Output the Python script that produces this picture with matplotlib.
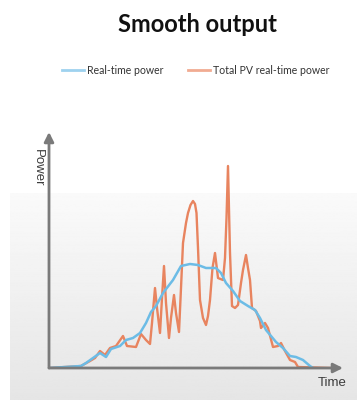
import numpy as np
import matplotlib
matplotlib.use("Agg")
import matplotlib.pyplot as plt
from matplotlib.lines import Line2D

# time / power (arbitrary units, no ticks shown)
pv_time = [0, 32, 41, 46, 51, 56, 61, 67, 74, 78, 87, 92, 97, 101, 103, 106,
           108, 111, 113, 115, 117, 120, 122, 125, 127, 130, 132, 134, 137,
           139, 141.5, 144, 146, 147.5, 149, 151, 154, 157, 159, 161, 163.5,
           166, 169, 174, 176, 177.5, 179, 181, 183, 186, 189, 192, 194,
           197, 199, 201, 203, 207, 211, 212, 216, 219, 224, 229, 232, 236,
           241, 246, 249, 281]
pv_power = [0, 2, 7, 10, 17, 13, 20, 22, 32, 22, 21, 34, 28, 24, 45, 80,
            60, 35, 70, 102, 65, 30, 50, 73, 55, 36, 80, 125, 145,
            155, 163, 167, 164, 155, 120, 68, 50, 43, 52, 68, 100,
            115, 90, 88, 110, 150, 202, 115, 62, 60, 63, 85, 98,
            113, 100, 88, 60, 57, 47, 40, 45, 40, 21, 22, 25, 17,
            8, 6, 1, 0]

rt_time = [0, 32, 37, 51, 57, 62, 71, 77, 84, 91, 97, 102, 107, 114, 124,
           132, 141, 149, 157, 167, 172, 177, 184, 191, 199, 206, 211, 217,
           222, 227, 234, 241, 247, 254, 261, 264]
rt_power = [0, 2, 5, 15, 11, 19, 22, 28, 30, 35, 45, 56, 62, 75, 88,
            102, 104, 103, 100, 100, 95, 85, 77, 67, 62, 58, 50, 38,
            32, 26, 20, 12, 11, 8, 2, 0]

legend_labels = ["Real-time power", "Total PV real-time power"]

blue = "#6cbce6"
orange = "#e8845f"
axis_col = "#7a7a7a"

fig = plt.figure(figsize=(3.57, 4.0), dpi=100)

# grey gradient panel behind the chart
bg = fig.add_axes([10 / 357, 0, 347 / 357, 207 / 400], zorder=0)
grad = np.linspace(0.90, 0.98, 256).reshape(-1, 1)
bg.imshow(grad, aspect="auto", cmap="gray", vmin=0, vmax=1,
          extent=[0, 1, 0, 1], origin="lower")
bg.set_axis_off()

ax = fig.add_axes([49 / 357, 32 / 400, 294 / 357, 236 / 400], zorder=1)
ax.patch.set_alpha(0)
ax.plot(rt_time, rt_power, color=blue, lw=1.8, zorder=3,
        solid_joinstyle="round")
ax.plot(pv_time, pv_power, color=orange, lw=1.7, zorder=2,
        solid_joinstyle="round")
ax.set_xlim(0, 294)
ax.set_ylim(0, 236)
for s in ax.spines.values():
    s.set_visible(False)
ax.set_xticks([])
ax.set_yticks([])

arrow = dict(arrowstyle="-|>", color=axis_col, lw=2, mutation_scale=14,
             shrinkA=0, shrinkB=0)
ax.annotate("", xy=(294, 0), xytext=(0, 0), arrowprops=arrow,
            annotation_clip=False, zorder=4)
ax.annotate("", xy=(0, 236), xytext=(0, 0), arrowprops=arrow,
            annotation_clip=False, zorder=4)

fig.text(38 / 357, 1 - 168 / 400, "Power", rotation=270, ha="center",
         va="center", fontsize=9.5, color="#3c3c3c",
         family="Liberation Sans")
fig.text(332 / 357, 1 - 383 / 400, "Time", ha="center", va="center",
         fontsize=9.5, color="#3c3c3c", family="Liberation Sans")

fig.text(197 / 357, 1 - 24 / 400, "Smooth output", ha="center",
         va="center", fontsize=17, fontweight="bold", color="#111111",
         family="Lato")

handles = [Line2D([], [], color="#9ed2ef", lw=2),
           Line2D([], [], color="#f1ab92", lw=2)]
fig.legend(handles, legend_labels, loc="center",
           bbox_to_anchor=(196 / 357, 1 - 70 / 400), ncol=2, frameon=False,
           prop={"family": "Lato", "size": 7.6}, labelcolor="#333333",
           handlelength=2.1, handletextpad=0.3, columnspacing=2.3)

fig.savefig("out.png", dpi=100)
